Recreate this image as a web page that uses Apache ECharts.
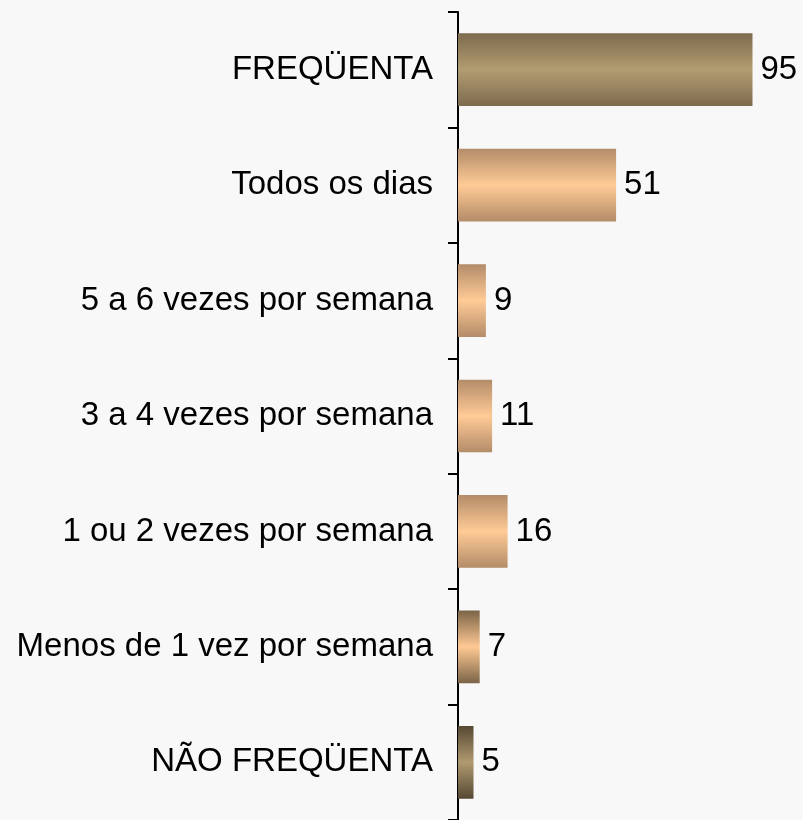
<!DOCTYPE html>
<html><head><meta charset="utf-8">
<script src="https://cdn.jsdelivr.net/npm/echarts@6/dist/echarts.min.js"></script>
<style>html,body{margin:0;padding:0;background:#f8f8f8;}#c{width:803px;height:820px;}</style>
</head><body><div id="c"></div>
<script>
const categories = ["FREQÜENTA","Todos os dias","5 a 6 vezes por semana","3 a 4 vezes por semana","1 ou 2 vezes por semana","Menos de 1 vez por semana","NÃO FREQÜENTA"];
const values = [95, 51, 9, 11, 16, 7, 5];
const edgeColors = ["#7d6b4e","#b38c69","#b38c69","#b38c69","#b38c69","#7b6447","#564833"];
const midColors  = ["#b29c71","#ffcb96","#ffcb96","#ffcb96","#ffcb96","#ffc994","#b09a70"];

const chart = echarts.init(document.getElementById('c'));
chart.setOption({
  backgroundColor: '#f8f8f8',
  animation: false,
  grid: {left: 458, right: 35, top: 12, height: 811, containLabel: false},
  xAxis: {type: 'value', min: 0, max: 100, show: false},
  yAxis: {
    type: 'category', data: categories, inverse: true,
    axisLine: {show: true, lineStyle: {color: '#000', width: 2}},
    axisTick: {show: true, length: 10, lineStyle: {color: '#000', width: 2}},
    axisLabel: {color: '#000', fontSize: 33, fontFamily: 'Liberation Sans, Arial, sans-serif', margin: 25}
  },
  series: [{
    type: 'bar',
    barWidth: '63%',
    data: values.map((v, i) => ({
      value: v,
      itemStyle: {color: new echarts.graphic.LinearGradient(0, 0, 0, 1, [
        {offset: 0, color: edgeColors[i]},
        {offset: 0.5, color: midColors[i]},
        {offset: 1, color: edgeColors[i]}
      ])}
    })),
    label: {show: true, position: 'right', distance: 8, color: '#000', fontSize: 33, fontFamily: 'Liberation Sans, Arial, sans-serif'}
  }]
});
</script></body></html>
